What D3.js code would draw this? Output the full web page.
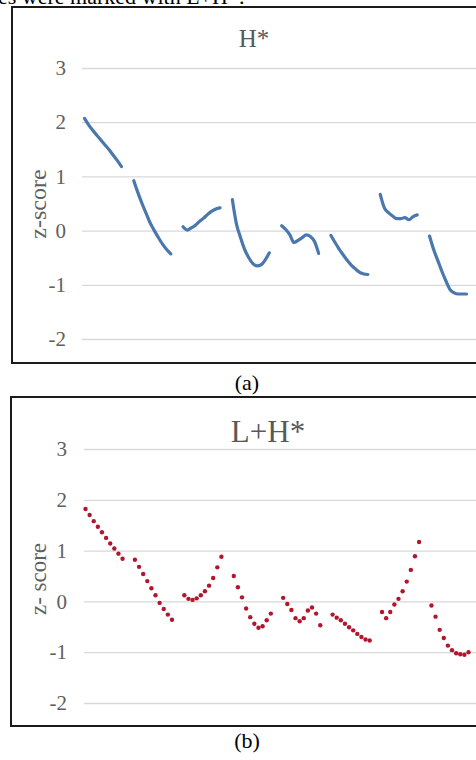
<!DOCTYPE html>
<html>
<head>
<meta charset="utf-8">
<script src="https://cdn.jsdelivr.net/npm/d3@7"></script>
<style>
  body { margin: 0; background: #fff; }
  svg { display: block; }
  text { font-family: "Liberation Serif", "Times New Roman", serif; }
</style>
</head>
<body>
<div id="chart"></div>
<script>
// z-score contours, 8 words x 10 normalised time points each
var yTicks = [-2, -1, 0, 1, 2, 3];
var pointsPerWord = 10;
var gapPoints = 2;

var hStar = [
  [2.07, 1.95, 1.85, 1.76, 1.67, 1.58, 1.49, 1.39, 1.29, 1.18],
  [0.92, 0.70, 0.50, 0.32, 0.14, 0.00, -0.13, -0.25, -0.35, -0.43],
  [0.07, 0.01, 0.05, 0.10, 0.17, 0.23, 0.30, 0.36, 0.40, 0.42],
  [0.57, 0.12, -0.13, -0.35, -0.50, -0.61, -0.65, -0.63, -0.54, -0.41],
  [0.09, 0.02, -0.08, -0.22, -0.18, -0.13, -0.08, -0.11, -0.20, -0.42],
  [-0.09, -0.22, -0.34, -0.45, -0.55, -0.64, -0.71, -0.77, -0.80, -0.81],
  [0.67, 0.42, 0.33, 0.27, 0.22, 0.22, 0.24, 0.20, 0.26, 0.29],
  [-0.10, -0.35, -0.55, -0.75, -0.93, -1.09, -1.15, -1.17, -1.17, -1.17]
];

var lhStar = [
  [1.82, 1.70, 1.58, 1.47, 1.36, 1.25, 1.14, 1.04, 0.94, 0.84],
  [0.82, 0.68, 0.54, 0.40, 0.26, 0.12, -0.03, -0.15, -0.26, -0.36],
  [0.12, 0.05, 0.03, 0.06, 0.12, 0.20, 0.31, 0.46, 0.67, 0.88],
  [0.50, 0.28, 0.08, -0.14, -0.31, -0.44, -0.52, -0.49, -0.37, -0.24],
  [0.07, -0.05, -0.17, -0.33, -0.39, -0.33, -0.18, -0.12, -0.24, -0.47],
  [-0.26, -0.32, -0.37, -0.44, -0.51, -0.57, -0.64, -0.70, -0.75, -0.77],
  [-0.21, -0.33, -0.21, -0.06, 0.05, 0.20, 0.39, 0.62, 0.89, 1.17],
  [-0.08, -0.30, -0.56, -0.72, -0.87, -0.96, -1.02, -1.04, -1.05, -1.00]
];

// flatten words into one category axis with empty slots between words
function flatten(words) {
  var out = [];
  words.forEach(function(w, k) {
    w.forEach(function(v, j) {
      out.push({i: k * (pointsPerWord + gapPoints) + j, v: v, word: k});
    });
  });
  return out;
}

var W = 476, H = 760;
var svg = d3.select("#chart").append("svg")
  .attr("width", W).attr("height", H);

// sentence cut off at the top of the crop
svg.append("text")
  .attr("x", -2).attr("y", 4)
  .style("font-size", "22px")
  .attr("fill", "#000")
  .text("es were marked with L+H*.");

var nCats = hStar.length * (pointsPerWord + gapPoints) - gapPoints;

function panel(cfg) {
  var g = svg.append("g");

  // chart frame (right side cropped off)
  g.append("rect")
    .attr("x", cfg.frame[0]).attr("y", cfg.frame[1])
    .attr("width", W + 20).attr("height", cfg.frame[2] - cfg.frame[1])
    .attr("fill", "#fff")
    .attr("stroke", "#1a1a1a")
    .attr("stroke-width", 2);

  var x = d3.scaleLinear().domain([0, nCats - 1]).range(cfg.xRange);
  var y = d3.scaleLinear().domain([-2, 3]).range(cfg.yRange);

  var axis = g.append("g")
    .attr("transform", "translate(" + cfg.gridLeft + ",0)")
    .call(d3.axisLeft(y).tickValues(yTicks).tickFormat(function(d) { return String(d); })
      .tickSize(-(W - cfg.gridLeft)).tickPadding(cfg.pad));
  axis.select(".domain").remove();
  axis.selectAll(".tick line").attr("stroke", "#d9d9d9").attr("stroke-width", 1.3);
  axis.selectAll(".tick text")
    .attr("fill", "#606060")
    .style("font-size", "21px")
    .style("font-family", "'Liberation Serif', serif");

  g.append("text")
    .attr("transform", "translate(" + cfg.yTitle[0] + "," + cfg.yTitle[1] + ") rotate(-90)")
    .attr("text-anchor", "middle")
    .attr("dy", "0.35em")
    .attr("fill", "#606060")
    .style("font-size", cfg.yTitleSize + "px")
    .text(cfg.yLabel);

  g.append("text")
    .attr("x", cfg.title[0]).attr("y", cfg.title[1])
    .attr("text-anchor", "middle")
    .attr("fill", "#595959")
    .style("font-size", cfg.titleSize + "px")
    .text(cfg.name);

  var data = flatten(cfg.words);

  if (cfg.type === "line") {
    var line = d3.line()
      .x(function(d) { return x(d.i); })
      .y(function(d) { return y(d.v); })
      .curve(d3.curveMonotoneX);
    g.selectAll(".word")
      .data(d3.groups(data, function(d) { return d.word; }))
      .enter().append("path")
      .attr("class", "word")
      .attr("d", function(d) { return line(d[1]); })
      .attr("fill", "none")
      .attr("stroke", cfg.color)
      .attr("stroke-width", 3.2)
      .attr("stroke-linecap", "round")
      .attr("stroke-linejoin", "round");
  } else {
    g.selectAll(".dot")
      .data(data)
      .enter().append("circle")
      .attr("class", "dot")
      .attr("cx", function(d) { return x(d.i); })
      .attr("cy", function(d) { return y(d.v); })
      .attr("r", 2.2)
      .attr("fill", cfg.color);
  }

  svg.append("text")
    .attr("x", cfg.caption[0]).attr("y", cfg.caption[1])
    .attr("text-anchor", "middle")
    .attr("fill", "#000")
    .style("font-size", "22px")
    .text(cfg.captionText);
}

panel({
  name: "H*", words: hStar, type: "line", color: "#4a77ad",
  frame: [12, 7, 363], xRange: [84.5, 466.5], yRange: [339, 68],
  gridLeft: 82, pad: 16, yTitle: [38, 204], yTitleSize: 24, yLabel: "z-score",
  title: [254, 47], titleSize: 25, caption: [247, 390], captionText: "(a)"
});

panel({
  name: "L+H*", words: lhStar, type: "dots", color: "#b3162c",
  frame: [11, 397, 726], xRange: [85.5, 468.5], yRange: [703, 449],
  gridLeft: 84, pad: 17, yTitle: [38, 579], yTitleSize: 23, yLabel: "z- score",
  title: [268, 442], titleSize: 31, caption: [247, 748], captionText: "(b)"
});
</script>
</body>
</html>
